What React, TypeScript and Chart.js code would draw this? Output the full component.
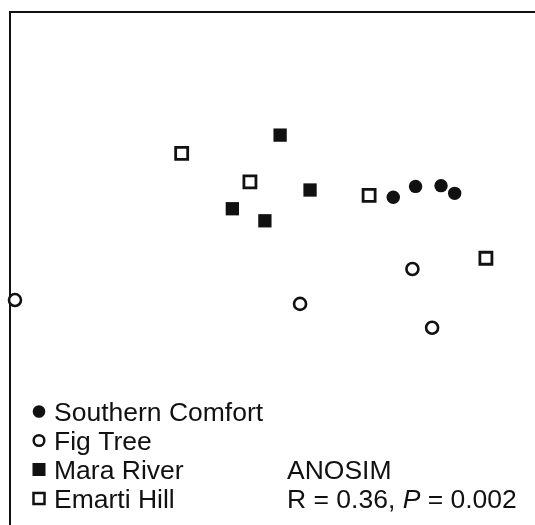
import React, { useEffect, useRef } from 'react';
import { Chart, registerables } from 'chart.js';

Chart.register(...registerables);

// NMDS ordination scores
const seriesNames = ['Southern Comfort', 'Fig Tree', 'Mara River', 'Emarti Hill'];
const southernX = [0.46, 0.545, 0.642, 0.694];
const southernY = [0.278, 0.32, 0.323, 0.293];
const figTreeX = [-0.981, 0.105, 0.533, 0.608];
const figTreeY = [-0.123, -0.138, -0.002, -0.231];
const maraX = [0.029, 0.143, -0.153, -0.029];
const maraY = [0.52, 0.306, 0.233, 0.186];
const emartiX = [-0.346, -0.086, 0.368, 0.813];
const emartiY = [0.449, 0.338, 0.285, 0.04];

const axisMin = -1;
const axisMax = 1;

const anosimTitle = 'ANOSIM';
const anosimR = 'R = 0.36, ';
const anosimP = 'P';
const anosimPValue = ' = 0.002';

const INK = '#111111';
const FONT_FAMILY = '"Liberation Sans", Arial, Helvetica, sans-serif';
const FONT_SIZE = 26.5;

const toPoints = (xs: number[], ys: number[]) => xs.map((x, i) => ({ x, y: ys[i] }));

type MarkerKind = 'filledCircle' | 'openCircle' | 'filledSquare' | 'openSquare';
const markerKinds: MarkerKind[] = ['filledCircle', 'openCircle', 'filledSquare', 'openSquare'];

function drawMarker(ctx: CanvasRenderingContext2D, kind: MarkerKind, x: number, y: number) {
  ctx.save();
  ctx.strokeStyle = INK;
  ctx.fillStyle = INK;
  ctx.beginPath();
  if (kind === 'filledCircle') {
    ctx.arc(x, y, 6.3, 0, Math.PI * 2);
    ctx.fill();
  } else if (kind === 'openCircle') {
    ctx.lineWidth = 2.5;
    ctx.arc(x, y, 5.3, 0, Math.PI * 2);
    ctx.fillStyle = '#ffffff';
    ctx.fill();
    ctx.stroke();
  } else if (kind === 'filledSquare') {
    ctx.rect(x - 6.5, y - 6.5, 13, 13);
    ctx.fill();
  } else {
    ctx.lineWidth = 2.5;
    ctx.rect(x - 5.5, y - 5.5, 11, 11);
    ctx.fillStyle = '#ffffff';
    ctx.fill();
    ctx.stroke();
  }
  ctx.restore();
}

const legendPlugin = {
  id: 'nmdsLegend',
  afterDraw(chart: Chart) {
    const ctx = chart.ctx;
    const left = chart.chartArea.left;
    const markerX = left + 29;
    const textX = left + 44;
    const baselines = [421, 450, 479, 508];
    ctx.save();
    ctx.font = `${FONT_SIZE}px ${FONT_FAMILY}`;
    ctx.textBaseline = 'alphabetic';
    ctx.textAlign = 'left';
    ctx.fillStyle = INK;
    seriesNames.forEach((name, i) => {
      drawMarker(ctx, markerKinds[i], markerX, baselines[i] - 9.5);
      ctx.fillStyle = INK;
      ctx.fillText(name, textX, baselines[i]);
    });
    const sx = 287;
    ctx.fillText(anosimTitle, sx, baselines[2]);
    let cx = sx;
    ctx.fillText(anosimR, cx, baselines[3]);
    cx += ctx.measureText(anosimR).width;
    ctx.font = `italic ${FONT_SIZE}px ${FONT_FAMILY}`;
    ctx.fillText(anosimP, cx, baselines[3]);
    cx += ctx.measureText(anosimP).width;
    ctx.font = `${FONT_SIZE}px ${FONT_FAMILY}`;
    ctx.fillText(anosimPValue, cx, baselines[3]);
    ctx.restore();
  },
};

export default function App() {
  const canvasRef = useRef<HTMLCanvasElement | null>(null);

  useEffect(() => {
    if (!canvasRef.current) return;
    const chart = new Chart(canvasRef.current, {
      type: 'scatter',
      data: {
        datasets: [
          {
            label: seriesNames[0],
            data: toPoints(southernX, southernY),
            pointStyle: 'circle',
            pointRadius: 6.7,
            backgroundColor: INK,
            borderColor: INK,
            borderWidth: 0,
            clip: false,
          },
          {
            label: seriesNames[1],
            data: toPoints(figTreeX, figTreeY),
            pointStyle: 'circle',
            pointRadius: 6,
            backgroundColor: '#ffffff',
            borderColor: INK,
            borderWidth: 2.6,
            clip: false,
          },
          {
            label: seriesNames[2],
            data: toPoints(maraX, maraY),
            pointStyle: 'rect',
            pointRadius: 9.4,
            backgroundColor: INK,
            borderColor: INK,
            borderWidth: 0,
            clip: false,
          },
          {
            label: seriesNames[3],
            data: toPoints(emartiX, emartiY),
            pointStyle: 'rect',
            pointRadius: 8.5,
            backgroundColor: '#ffffff',
            borderColor: INK,
            borderWidth: 2.8,
            clip: false,
          },
        ] as any,
      },
      options: {
        animation: false,
        responsive: false,
        maintainAspectRatio: false,
        layout: { autoPadding: false, padding: { left: 10, top: 12, right: 0, bottom: 0 } },
        plugins: {
          legend: { display: false },
          tooltip: { enabled: false },
        },
        scales: {
          x: {
            type: 'linear',
            position: 'top',
            min: axisMin,
            max: axisMax,
            grid: { display: false, drawTicks: false },
            ticks: { display: false },
            border: { display: true, color: INK, width: 2 },
          },
          y: {
            type: 'linear',
            position: 'left',
            min: axisMin,
            max: axisMax,
            grid: { display: false, drawTicks: false },
            ticks: { display: false },
            border: { display: true, color: INK, width: 2 },
          },
        },
      } as any,
      plugins: [legendPlugin],
    });
    return () => chart.destroy();
  }, []);

  return (
    <div style={{ position: 'fixed', left: 0, top: 0, width: 535, height: 525, background: '#ffffff' }}>
      <canvas ref={canvasRef} width={535} height={525} style={{ width: 535, height: 525, display: 'block' }} />
    </div>
  );
}
